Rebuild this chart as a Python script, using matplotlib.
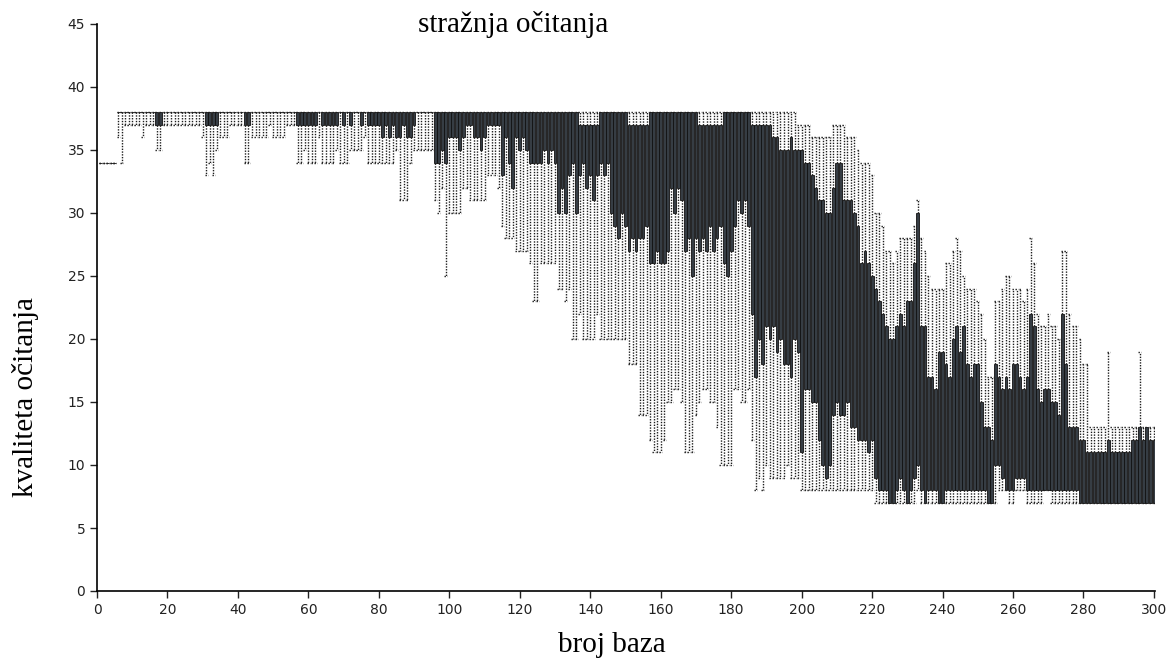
import matplotlib
matplotlib.use("Agg")
import matplotlib.pyplot as plt

# per-position read quality (positions 1..300)
positions = list(range(1, 301))

whisker_high = [
    34, 34, 34, 34, 34, 38, 38, 38, 38, 38,   # 1-10
    38, 38, 38, 38, 38, 38, 38, 38, 38, 38,   # 11-20
    38, 38, 38, 38, 38, 38, 38, 38, 38, 38,
    38, 38, 38, 38, 38, 38, 38, 38, 38, 38,
    38, 38, 38, 38, 38, 38, 38, 38, 38, 38,
    38, 38, 38, 38, 38, 38, 38, 38, 38, 38,   # 51-60
    38, 38, 38, 38, 38, 38, 38, 38, 38, 38,
    38, 38, 38, 38, 38, 38, 38, 38, 38, 38,
    38, 38, 38, 38, 38, 38, 38, 38, 38, 38,
    38, 38, 38, 38, 38, 38, 38, 38, 38, 38,
    38, 38, 38, 38, 38, 38, 38, 38, 38, 38,   # 101-110
    38, 38, 38, 38, 38, 38, 38, 38, 38, 38,
    38, 38, 38, 38, 38, 38, 38, 38, 38, 38,
    38, 38, 38, 38, 38, 38, 38, 38, 38, 38,
    38, 38, 38, 38, 38, 38, 38, 38, 38, 38,
    38, 38, 38, 38, 38, 38, 38, 38, 38, 38,   # 151-160
    38, 38, 38, 38, 38, 38, 38, 38, 38, 38,
    38, 38, 38, 38, 38, 38, 38, 38, 38, 38,
    38, 38, 38, 38, 38, 38, 38, 38, 38, 38,
    38, 38, 38, 38, 38, 38, 38, 38, 37, 37,
    37, 37, 36, 36, 36, 36, 36, 36, 37, 37,   # 201-210
    37, 37, 36, 36, 36, 35, 34, 34, 34, 33,
    30, 30, 29, 27, 27, 26, 27, 28, 28, 28,
    28, 29, 31, 28, 27, 25, 24, 24, 24, 24,
    26, 26, 27, 28, 27, 25, 24, 24, 24, 23,
    22, 20, 17, 17, 23, 23, 24, 25, 25, 24,   # 251-260
    24, 24, 23, 24, 28, 26, 22, 21, 21, 22,
    21, 21, 20, 27, 27, 22, 21, 21, 20, 18,
    18, 13, 13, 13, 13, 13, 19, 13, 13, 13,
    13, 13, 13, 13, 13, 19, 13, 13, 13, 13,
]

q3 = [
    34, 34, 34, 34, 34, 38, 38, 38, 38, 38,
    38, 38, 38, 38, 38, 38, 38, 38, 38, 38,
    38, 38, 38, 38, 38, 38, 38, 38, 38, 38,
    38, 38, 38, 38, 38, 38, 38, 38, 38, 38,
    38, 38, 38, 38, 38, 38, 38, 38, 38, 38,
    38, 38, 38, 38, 38, 38, 38, 38, 38, 38,
    38, 38, 38, 38, 38, 38, 38, 38, 38, 38,
    38, 38, 38, 38, 38, 38, 38, 38, 38, 38,
    38, 38, 38, 38, 38, 38, 38, 38, 38, 38,
    38, 38, 38, 38, 38, 38, 38, 38, 38, 38,
    38, 38, 38, 38, 38, 38, 38, 38, 38, 38,
    38, 38, 38, 38, 38, 38, 38, 38, 38, 38,
    38, 38, 38, 38, 38, 38, 38, 38, 38, 38,
    38, 38, 38, 38, 38, 38, 37, 37, 37, 37,
    37, 37, 38, 38, 38, 38, 38, 38, 38, 38,
    37, 37, 37, 37, 37, 37, 38, 38, 38, 38,
    38, 38, 38, 38, 38, 38, 38, 38, 38, 38,
    37, 37, 37, 37, 37, 37, 37, 38, 38, 38,
    38, 38, 38, 38, 38, 37, 37, 37, 37, 37,
    37, 36, 36, 35, 35, 35, 36, 35, 35, 35,
    34, 34, 33, 32, 31, 31, 30, 30, 32, 34,
    34, 31, 31, 31, 30, 29, 26, 27, 26, 25,
    24, 23, 22, 21, 20, 20, 21, 22, 21, 23,
    23, 26, 30, 21, 21, 17, 17, 16, 19, 19,
    18, 17, 20, 21, 19, 21, 18, 17, 18, 18,
    15, 13, 13, 12, 18, 17, 16, 17, 16, 18,
    18, 17, 16, 17, 22, 21, 16, 15, 16, 16,
    15, 15, 14, 22, 18, 13, 13, 13, 12, 12,
    11, 11, 11, 11, 11, 11, 12, 11, 11, 11,
    11, 11, 11, 12, 12, 13, 12, 13, 12, 12,
]

q1 = [
    34, 34, 34, 34, 34, 38, 38, 38, 38, 38,
    38, 38, 38, 38, 38, 38, 37, 37, 38, 38,
    38, 38, 38, 38, 38, 38, 38, 38, 38, 38,
    37, 37, 37, 37, 38, 38, 38, 38, 38, 38,
    38, 37, 37, 38, 38, 38, 38, 38, 38, 38,
    38, 38, 38, 38, 38, 38, 37, 37, 37, 37,
    37, 37, 38, 37, 37, 37, 37, 37, 38, 37,
    38, 37, 38, 38, 37, 38, 37, 37, 37, 37,
    36, 37, 36, 37, 36, 36, 37, 36, 36, 37,
    38, 38, 38, 38, 38, 34, 34, 35, 34, 36,
    36, 36, 35, 36, 37, 37, 36, 36, 35, 36,
    37, 37, 37, 37, 33, 36, 34, 32, 36, 35,
    36, 35, 34, 34, 34, 34, 35, 34, 35, 34,
    30, 32, 30, 33, 34, 30, 33, 34, 32, 33,
    31, 33, 34, 33, 34, 30, 29, 28, 30, 29,
    27, 28, 27, 28, 28, 29, 26, 26, 27, 26,
    26, 27, 32, 30, 32, 31, 27, 28, 25, 28,
    27, 28, 27, 29, 27, 28, 29, 26, 25, 27,
    29, 31, 30, 31, 29, 22, 17, 20, 18, 21,
    20, 21, 19, 20, 18, 18, 17, 20, 19, 11,
    16, 16, 15, 15, 12, 10, 9, 10, 14, 15,
    14, 14, 15, 13, 13, 12, 12, 12, 11, 12,
    9, 8, 8, 8, 7, 7, 8, 9, 8, 7,
    8, 9, 10, 8, 7, 8, 8, 8, 7, 7,
    8, 8, 8, 8, 8, 8, 8, 8, 8, 8,
    8, 8, 7, 7, 10, 10, 9, 8, 8, 8,
    9, 9, 9, 8, 8, 8, 8, 8, 8, 8,
    8, 8, 8, 8, 8, 8, 8, 8, 7, 7,
    7, 7, 7, 7, 7, 7, 7, 7, 7, 7,
    7, 7, 7, 7, 7, 7, 7, 7, 7, 7,
]

whisker_low = [
    34, 34, 34, 34, 34, 36, 34, 37, 37, 37,
    37, 37, 36, 37, 37, 37, 35, 35, 37, 37,
    37, 37, 37, 37, 37, 37, 37, 37, 37, 36,
    33, 34, 33, 35, 36, 36, 36, 37, 37, 37,
    37, 34, 34, 36, 36, 36, 36, 36, 37, 36,
    36, 36, 36, 37, 37, 37, 34, 34, 35, 34,
    34, 34, 36, 34, 34, 34, 34, 35, 34, 34,
    34, 35, 35, 35, 35, 36, 34, 34, 34, 34,
    34, 34, 34, 34, 35, 31, 31, 31, 34, 35,
    35, 35, 35, 35, 35, 31, 30, 32, 25, 30,
    30, 30, 30, 32, 32, 31, 31, 31, 31, 31,
    33, 33, 33, 32, 29, 28, 28, 28, 27, 27,
    27, 27, 26, 23, 23, 26, 26, 26, 26, 26,
    24, 24, 23, 24, 20, 20, 22, 20, 20, 20,
    20, 22, 20, 20, 20, 20, 20, 20, 20, 20,
    18, 18, 18, 14, 14, 14, 12, 11, 11, 11,
    12, 15, 15, 16, 16, 15, 11, 11, 11, 14,
    15, 16, 16, 15, 15, 13, 10, 10, 10, 10,
    16, 16, 15, 15, 16, 12, 8, 9, 8, 10,
    9, 9, 9, 9, 9, 10, 9, 9, 9, 8,
    8, 8, 8, 8, 8, 8, 8, 8, 8, 8,
    8, 8, 8, 8, 8, 8, 8, 8, 8, 8,
    7, 7, 7, 7, 7, 7, 7, 7, 7, 7,
    7, 7, 8, 7, 7, 7, 7, 7, 7, 7,
    7, 7, 7, 7, 7, 7, 7, 7, 7, 7,
    7, 7, 7, 7, 7, 8, 8, 8, 7, 7,
    8, 8, 8, 7, 7, 7, 7, 7, 8, 8,
    7, 7, 7, 7, 7, 7, 7, 7, 7, 7,
    7, 7, 7, 7, 7, 7, 7, 7, 7, 7,
    7, 7, 7, 7, 7, 7, 7, 7, 7, 7,
]

x_ticks = list(range(0, 301, 20))
y_ticks = list(range(0, 46, 5))

title = "stražnja očitanja"
x_label = "broj baza"
y_label = "kvaliteta očitanja"

stats = [
    {"whislo": lo, "q1": a, "med": b, "q3": b, "whishi": hi}
    for lo, a, b, hi in zip(whisker_low, q1, q3, whisker_high)
]

W, H = 1167, 661
fig = plt.figure(figsize=(W / 100, H / 100), dpi=100)
ax = fig.add_axes([97 / W, 70 / H, 1058 / W, 567 / H])

dotted = (0, (1, 1))
ax.bxp(
    stats,
    positions=positions,
    widths=0.8,
    capwidths=0.8,
    patch_artist=True,
    showfliers=False,
    boxprops=dict(facecolor="#363d44", edgecolor="#111111", linewidth=0.6),
    whiskerprops=dict(color="#1e1e1e", linewidth=1.0, linestyle=dotted),
    capprops=dict(color="#1e1e1e", linewidth=1.0, linestyle=dotted),
    medianprops=dict(visible=False),
    manage_ticks=False,
)

ax.set_xlim(0, 300.3)
ax.set_ylim(0, 45)
ax.set_xticks(x_ticks)
ax.set_yticks(y_ticks)
ax.tick_params(labelsize=10, length=5, width=1, colors="#222222")
for side in ("top", "right"):
    ax.spines[side].set_visible(False)
for side in ("left", "bottom"):
    ax.spines[side].set_linewidth(1.2)

# labels placed by pixel position, as in the original picture
serif = ["Liberation Serif", "DejaVu Serif"]
fig.text(513 / W, 1 - 24 / H, title, fontsize=21, family=serif,
         ha="center", va="center")
fig.text(612 / W, 1 - 645 / H, x_label, fontsize=21, family=serif,
         ha="center", va="center")
fig.text(26 / W, 1 - 397 / H, y_label, fontsize=21, family=serif,
         ha="center", va="center", rotation=90)

fig.savefig("out.png", dpi=100)
